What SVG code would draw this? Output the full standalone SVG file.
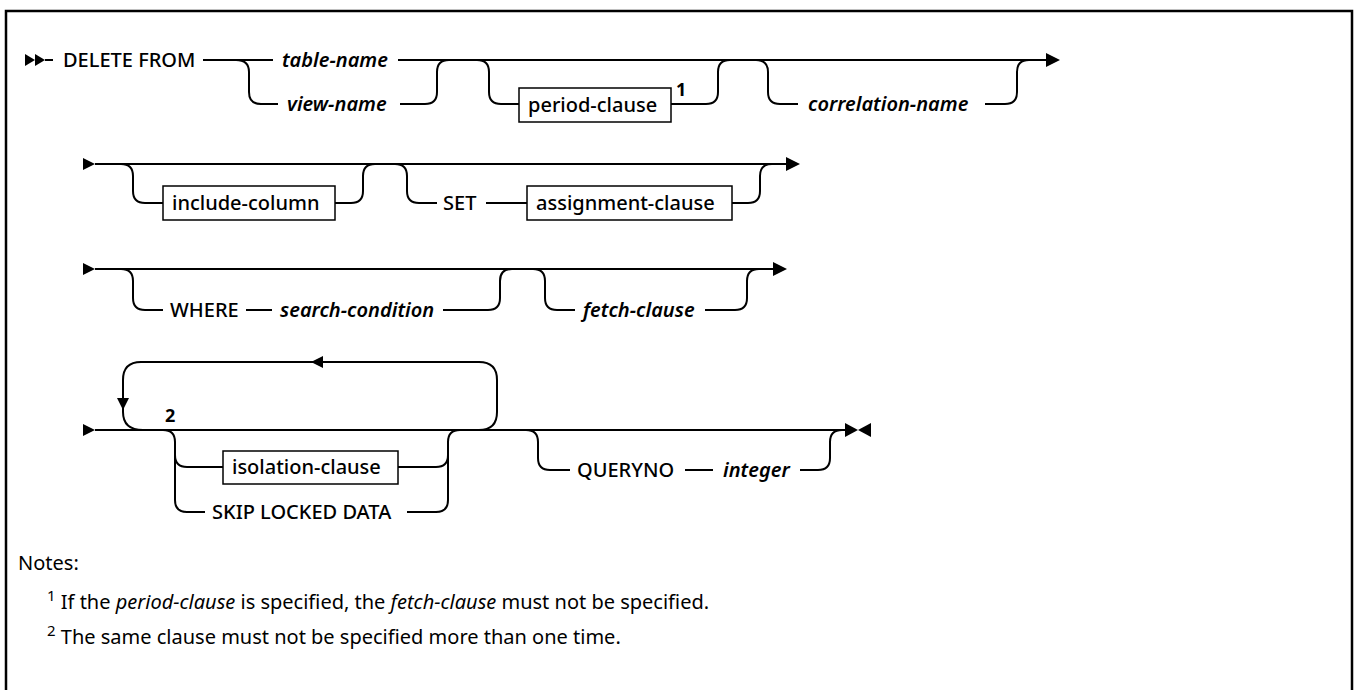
<svg xmlns="http://www.w3.org/2000/svg" width="1354" height="690" viewBox="0 0 1354 690">
<style>
.ln{fill:none;stroke:#000;stroke-width:2;}
.bx{fill:#fff;stroke:#000;stroke-width:1.5;}
.ar{fill:#000;stroke:none;}
.kw{font-family:"Noto Sans","Liberation Sans",sans-serif;font-size:20px;font-weight:500;fill:#000;}
.var{font-family:"Noto Sans","Liberation Sans",sans-serif;font-size:20px;font-weight:600;font-style:italic;fill:#000;}
.sup{font-family:"Noto Sans","Liberation Sans",sans-serif;font-size:18px;font-weight:700;fill:#000;}
.note{font-family:"Noto Sans","Liberation Sans",sans-serif;font-size:20px;fill:#000;}
</style>
<rect width="1354" height="690" fill="#fff"/>
<path d="M6,690 V11 H1352 V690" fill="none" stroke="#000" stroke-width="2.5"/>

<g id="connectors">
  <!-- row 1 -->
  <polygon class="ar" points="25,54 25,66 35,60"/>
  <polygon class="ar" points="35,54 35,66 45,60"/>
  <path class="ln" d="M45,60 H53"/>
  <path class="ln" d="M203,60 H273"/>
  <path class="ln" d="M236,60 Q249,60 249,72 V92 Q249,104 261,104 H278"/>
  <path class="ln" d="M398,60 H1048"/>
  <path class="ln" d="M400,104 H425 Q437,104 437,92 V72 Q437,60 449,60"/>
  <path class="ln" d="M477,60 Q489,60 489,72 V92 Q489,104 501,104 H519"/>
  <path class="ln" d="M671,104 H706 Q718,104 718,92 V72 Q718,60 730,60"/>
  <path class="ln" d="M756,60 Q768,60 768,72 V92 Q768,104 780,104 H798"/>
  <path class="ln" d="M985,104 H1005 Q1017,104 1017,92 V72 Q1017,60 1029,60"/>
  <polygon class="ar" points="1046,53 1046,67 1060,60"/>

  <!-- row 2 -->
  <polygon class="ar" points="83,158 83,170 95,164"/>
  <path class="ln" d="M95,164 H788"/>
  <path class="ln" d="M121,164 Q133,164 133,176 V191 Q133,203 145,203 H163"/>
  <path class="ln" d="M335,203 H351 Q363,203 363,191 V176 Q363,164 375,164"/>
  <path class="ln" d="M395,164 Q407,164 407,176 V191 Q407,203 419,203 H437"/>
  <path class="ln" d="M486,203 H527"/>
  <path class="ln" d="M732,203 H748 Q760,203 760,191 V176 Q760,164 772,164"/>
  <polygon class="ar" points="786,157 786,171 800,164"/>

  <!-- row 3 -->
  <polygon class="ar" points="83,263 83,275 95,269"/>
  <path class="ln" d="M95,269 H775"/>
  <path class="ln" d="M121,269 Q133,269 133,281 V298 Q133,310 145,310 H163"/>
  <path class="ln" d="M246,310 H272"/>
  <path class="ln" d="M443,310 H488 Q500,310 500,298 V281 Q500,269 512,269"/>
  <path class="ln" d="M533,269 Q545,269 545,281 V298 Q545,310 557,310 H575"/>
  <path class="ln" d="M705,310 H735 Q747,310 747,298 V281 Q747,269 759,269"/>
  <polygon class="ar" points="773,262 773,276 787,269"/>

  <!-- row 4 -->
  <polygon class="ar" points="83,424 83,436 95,430"/>
  <path class="ln" d="M95,430 H846"/>
  <path class="ln" d="M143,430 Q123,430 123,412 V380 Q123,362 141,362 H479 Q497,362 497,380 V412 Q497,430 479,430"/>
  <polygon class="ar" points="117,398 129,398 123,410"/>
  <polygon class="ar" points="323,356 323,368 311,362"/>
  <path class="ln" d="M163,430 Q175,430 175,442 V500 Q175,512 187,512 H205"/>
  <path class="ln" d="M175,455 Q175,467 187,467 H223"/>
  <path class="ln" d="M398,467 H436 Q448,467 448,455"/>
  <path class="ln" d="M407,512 H436 Q448,512 448,500 V442 Q448,430 460,430"/>
  <path class="ln" d="M526,430 Q538,430 538,442 V458 Q538,470 550,470 H570"/>
  <path class="ln" d="M685,470 H713"/>
  <path class="ln" d="M800,470 H818 Q830,470 830,458 V442 Q830,430 842,430"/>
  <polygon class="ar" points="845,423 845,437 858,430"/>
  <polygon class="ar" points="858,430 871,423 871,437"/>
</g>

<g id="n-delete-from"><text class="kw" x="63" y="67">DELETE FROM</text></g>
<g id="n-table-name"><text class="var" x="282" y="67">table-name</text></g>
<g id="n-view-name"><text class="var" x="287" y="111">view-name</text></g>
<g id="n-period-clause"><rect class="bx" x="519" y="88" width="152" height="34"/><text class="kw" x="528" y="112">period-clause</text><text class="sup" x="676" y="96">1</text></g>
<g id="n-correlation-name"><text class="var" x="808" y="111">correlation-name</text></g>

<g id="n-include-column"><rect class="bx" x="163" y="186" width="172" height="34"/><text class="kw" x="172" y="210">include-column</text></g>
<g id="n-set"><text class="kw" x="443" y="210">SET</text></g>
<g id="n-assignment-clause"><rect class="bx" x="527" y="186" width="205" height="34"/><text class="kw" x="536" y="210">assignment-clause</text></g>

<g id="n-where"><text class="kw" x="170" y="317">WHERE</text></g>
<g id="n-search-condition"><text class="var" x="280" y="317">search-condition</text></g>
<g id="n-fetch-clause"><text class="var" x="583" y="317">fetch-clause</text></g>

<g id="n-2"><text class="sup" x="165" y="422">2</text></g>
<g id="n-isolation-clause"><rect class="bx" x="223" y="451" width="175" height="33"/><text class="kw" x="232" y="474">isolation-clause</text></g>
<g id="n-skip-locked-data"><text class="kw" x="212" y="519">SKIP LOCKED DATA</text></g>
<g id="n-queryno"><text class="kw" x="577" y="477">QUERYNO</text></g>
<g id="n-integer"><text class="var" x="723" y="477">integer</text></g>

<g id="notes">
  <text class="note" x="18" y="570">Notes:</text>
  <text class="note" x="47" y="609"><tspan font-size="15" dy="-8">1</tspan><tspan dy="8"> If the </tspan><tspan font-style="italic">period-clause</tspan> is specified, the <tspan font-style="italic">fetch-clause</tspan> must not be specified.</text>
  <text class="note" x="47" y="644"><tspan font-size="15" dy="-8">2</tspan><tspan dy="8"> The same clause must not be specified more than one time.</tspan></text>
</g>
</svg>
